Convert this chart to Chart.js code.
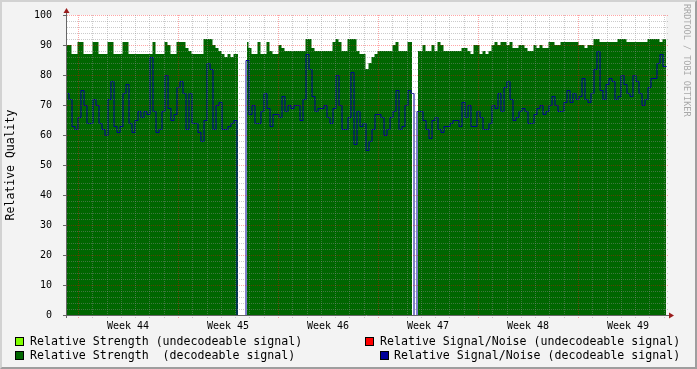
<!DOCTYPE html>
<html>
<head>
<meta charset="utf-8">
<script src="https://cdn.jsdelivr.net/npm/chart.js@4/dist/chart.umd.min.js"></script>
<style>
  html, body { margin: 0; padding: 0; background: #f3f3f3; }
  #wrap { position: relative; width: 697px; height: 369px; overflow: hidden; font-family: 'DejaVu Sans Mono', monospace; }
  #chart { position: absolute; left: 0; top: 0; }
  .frame { position: absolute; left: 0; top: 0; width: 697px; height: 369px; box-sizing: border-box;
           border-top: 2px solid #d2d2d2; border-left: 2px solid #d2d2d2;
           border-right: 2px solid #9e9e9e; border-bottom: 2px solid #9e9e9e; pointer-events: none; }
  .legend { position: absolute; font-size: 11.6px; line-height: 14px; color: #000; white-space: pre; }
  .box { position: absolute; width: 9px; height: 9px; box-sizing: border-box; border: 1px solid #000; }
  .mark { position: absolute; left: 682px; top: 4px; writing-mode: vertical-rl; font-size: 8.5px; color: #a8a8a8; white-space: pre; }
</style>
</head>
<body>
<div id="wrap">
  <canvas id="chart" width="697" height="369"></canvas>
  <div class="frame"></div>
  <div class="mark" id="watermark"></div>
  <div id="legend"></div>
</div>
<script>
// x axis is in hours from the start of week 44, one sample every 5.04 h
const weekLabels = ['Week 44', 'Week 45', 'Week 46', 'Week 47', 'Week 48', 'Week 49'];
const firstSampleHour = -18.48;
const sampleStepHours = 5.04;

// Relative Strength (decodeable signal), null = no data
const strengthDecoded = [
  90, 90, 87, 87, 91, 91, 87, 87, 87, 91, 91, 87, 87, 87, 91, 91, 87, 87, 87, 91,
  91, 87, 87, 87, 87, 87, 87, 87, 87, 91, 87, 87, 87, 91, 90, 87, 87, 91, 91, 91,
  89, 88, 87, 87, 87, 87, 92, 92, 92, 90, 89, 88, 87, 86, 87, 86, 87, 87, null, null,
  91, 89, 87, 87, 91, 87, 87, 91, 88, 87, 87, 90, 89, 88, 88, 88, 88, 88, 88, 88,
  92, 92, 89, 88, 88, 88, 88, 88, 88, 91, 92, 91, 88, 88, 92, 92, 92, 88, 87, 87,
  82, 84, 86, 87, 88, 88, 88, 88, 88, 90, 91, 88, 88, 88, 91, 91, null, 88, 88, 90,
  88, 88, 90, 88, 91, 90, 88, 88, 88, 88, 88, 88, 89, 89, 88, 87, 90, 90, 87, 88,
  87, 88, 90, 91, 90, 91, 91, 90, 91, 89, 89, 90, 90, 89, 88, 88, 90, 89, 90, 89,
  89, 91, 91, 90, 90, 91, 91, 91, 91, 91, 91, 90, 90, 89, 90, 90, 92, 92, 91, 91,
  91, 91, 91, 91, 92, 92, 92, 91, 91, 91, 91, 91, 91, 91, 92, 92, 92, 92, 91, 92, 92
];

// Relative Signal/Noise (decodeable signal)
const snrDecoded = [
  74, 72, 63, 62, 66, 75, 70, 64, 64, 72, 70, 64, 62, 60, 72, 78, 63, 61, 63, 74,
  77, 64, 61, 65, 68, 66, 68, 67, 86, 68, 61, 62, 68, 80, 69, 65, 67, 76, 78, 74,
  62, 74, 64, 64, 61, 58, 65, 84, 82, 62, 70, 71, 62, 62, 63, 64, 65, 0, 0, 0,
  85, 67, 70, 64, 64, 68, 74, 69, 63, 67, 67, 66, 73, 68, 70, 69, 70, 70, 65, 72,
  87, 82, 73, 68, 69, 69, 70, 66, 64, 69, 80, 70, 62, 62, 66, 81, 57, 68, 63, 64,
  55, 58, 62, 67, 67, 66, 60, 62, 66, 68, 75, 62, 63, 70, 75, 74, 0, 68, 68, 65,
  62, 59, 65, 66, 62, 61, 63, 63, 64, 65, 65, 63, 71, 66, 70, 63, 63, 68, 66, 62,
  62, 64, 70, 69, 74, 68, 76, 78, 72, 65, 66, 68, 69, 68, 64, 64, 67, 69, 70, 67,
  68, 70, 73, 70, 68, 68, 71, 75, 71, 74, 72, 73, 79, 72, 71, 74, 82, 88, 75, 72,
  77, 79, 78, 72, 73, 80, 77, 74, 73, 80, 78, 74, 70, 72, 76, 79, 79, 84, 87, 83, 83
];

const legendLeft = ['Relative Strength (undecodeable signal)', 'Relative Strength  (decodeable signal)'];
const legendRight = ['Relative Signal/Noise (undecodeable signal)', 'Relative Signal/Noise (decodeable signal)'];
const watermarkText = 'RRDTOOL / TOBI OETIKER';

const toPoints = values => values.map((v, i) => ({ x: firstSampleHour + i * sampleStepHours, y: v }));

// plot background, dotted grid on top of the data, axes with arrows
const rrdGrid = {
  id: 'rrdGrid',
  beforeDatasetsDraw(chart) {
    const { ctx, chartArea: a } = chart;
    ctx.save();
    ctx.fillStyle = '#ffffff';
    ctx.fillRect(a.left, a.top, a.right - a.left, a.bottom - a.top);
    ctx.restore();
  },
  beforeDatasetDraw(chart, args) {
    // keep the 1px signal/noise line crisp
    if (args.index === 0) { chart.ctx.save(); chart.ctx.translate(0.5, 0.5); }
  },
  afterDatasetDraw(chart, args) {
    if (args.index === 0) chart.ctx.restore();
  },
  afterDatasetsDraw(chart) {
    const { ctx, chartArea: a, scales: { x, y } } = chart;
    const minor = 'rgba(140,140,140,0.45)';
    const major = 'rgba(255,0,0,0.35)';
    ctx.save();
    ctx.lineWidth = 1;
    ctx.setLineDash([1, 1]);

    for (let v = 0; v <= 100; v += 2) {
      const py = Math.round(y.getPixelForValue(v)) + 0.5;
      ctx.strokeStyle = v % 10 === 0 ? major : minor;
      ctx.beginPath();
      ctx.moveTo(a.left, py);
      ctx.lineTo(a.right + 3, py);
      ctx.stroke();
    }
    for (let h = 0; h <= x.max; h += 24) {
      const px = Math.round(x.getPixelForValue(h)) + 0.5;
      ctx.strokeStyle = h % 168 === 0 ? major : minor;
      ctx.beginPath();
      ctx.moveTo(px, a.top);
      ctx.lineTo(px, a.bottom + 3);
      ctx.stroke();
    }

    ctx.setLineDash([]);
    ctx.strokeStyle = '#666666';
    for (let v = 0; v <= 100; v += 10) {
      const py = Math.round(y.getPixelForValue(v)) + 0.5;
      ctx.beginPath();
      ctx.moveTo(a.left - 4, py);
      ctx.lineTo(a.left, py);
      ctx.stroke();
    }
    ctx.beginPath();
    ctx.moveTo(a.left - 0.5, a.bottom + 3);
    ctx.lineTo(a.left - 0.5, a.top - 6);
    ctx.moveTo(a.left - 4, a.bottom + 0.5);
    ctx.lineTo(a.right + 4, a.bottom + 0.5);
    ctx.stroke();

    ctx.fillStyle = '#9a1c1c';
    ctx.beginPath();
    ctx.moveTo(a.left - 0.5, a.top - 7);
    ctx.lineTo(a.left - 3.5, a.top - 2);
    ctx.lineTo(a.left + 2.5, a.top - 2);
    ctx.closePath();
    ctx.fill();
    ctx.beginPath();
    ctx.moveTo(a.right + 8, a.bottom + 0.5);
    ctx.lineTo(a.right + 3, a.bottom - 2.5);
    ctx.lineTo(a.right + 3, a.bottom + 3.5);
    ctx.closePath();
    ctx.fill();
    ctx.restore();
  }
};

new Chart(document.getElementById('chart'), {
  type: 'line',
  data: {
    datasets: [{
      label: 'Relative Signal/Noise (decodeable signal)',
      data: toPoints(snrDecoded),
      borderColor: '#000099',
      borderWidth: 1,
      stepped: 'middle',
      pointRadius: 0,
      fill: false
    }, {
      label: 'Relative Strength (decodeable signal)',
      data: toPoints(strengthDecoded),
      borderWidth: 0,
      borderColor: 'rgba(0,0,0,0)',
      backgroundColor: '#006600',
      stepped: 'middle',
      pointRadius: 0,
      fill: 'origin'
    }]
  },
  options: {
    responsive: false,
    devicePixelRatio: 1,
    animation: false,
    spanGaps: false,
    layout: { padding: { left: 0, top: 15, right: 31, bottom: 0 } },
    plugins: { legend: { display: false }, tooltip: { enabled: false } },
    scales: {
      x: {
        type: 'linear',
        min: -18.48,
        max: 987.84,
        grid: { display: false },
        border: { display: false },
        afterFit: s => { s.height = 54; },
        afterBuildTicks: s => { s.ticks = weekLabels.map((_, i) => ({ value: 84 + i * 168 })); },
        ticks: {
          autoSkip: false,
          maxRotation: 0,
          padding: -3,
          color: '#000',
          font: { family: 'DejaVu Sans Mono', size: 10 },
          callback: (v, i) => weekLabels[i]
        }
      },
      y: {
        min: 0,
        max: 100,
        grid: { display: false },
        border: { display: false },
        afterFit: s => { s.width = 67; },
        ticks: {
          stepSize: 10,
          padding: 7,
          color: '#000',
          font: { family: 'DejaVu Sans Mono', size: 10 }
        },
        title: {
          display: true,
          text: 'Relative Quality',
          color: '#000',
          padding: { top: 4, bottom: 0 },
          font: { family: 'DejaVu Sans Mono', size: 11.5 }
        }
      }
    }
  },
  plugins: [rrdGrid]
});

// legend and watermark as page text
document.getElementById('watermark').textContent = watermarkText;
const legendEl = document.getElementById('legend');
const legendRows = [
  { box: 15, text: 30, top: 334, color: '#80ff00', label: legendLeft[0] },
  { box: 15, text: 30, top: 348, color: '#006600', label: legendLeft[1] },
  { box: 365, text: 380, top: 334, color: '#ff0000', label: legendRight[0] },
  { box: 380, text: 394, top: 348, color: '#000099', label: legendRight[1] }
];
legendRows.forEach(r => {
  legendEl.insertAdjacentHTML('beforeend',
    `<div class="box" style="left:${r.box}px;top:${r.top + 3}px;background:${r.color}"></div>` +
    `<div class="legend" style="left:${r.text}px;top:${r.top}px">${r.label}</div>`);
});
</script>
</body>
</html>
